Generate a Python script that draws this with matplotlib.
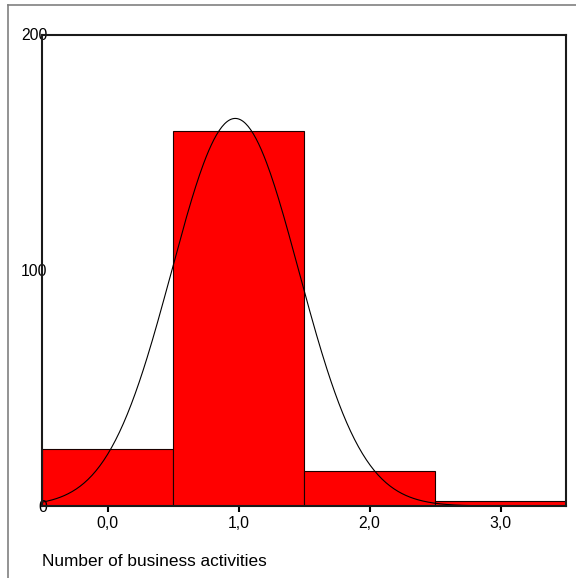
import numpy as np
import matplotlib.pyplot as plt
from matplotlib.lines import Line2D

plt.rcParams['font.family'] = ['Liberation Sans', 'DejaVu Sans']

# histogram of number of business activities
categories = [0, 1, 2, 3]
counts = [24, 159, 15, 2]
tick_labels = ['0,0', '1,0', '2,0', '3,0']

fig = plt.figure(figsize=(5.76, 5.78), dpi=100)
ax = fig.add_axes([42/576, 1-506/578, (566-42)/576, (506-34.5)/578])

ax.bar(categories, counts, width=1.0, color='#ff0000', edgecolor='#1a0000', linewidth=0.8)

# normal curve from the data
vals = np.repeat(categories, counts)
mu = vals.mean()
sd = vals.std(ddof=1)
n = len(vals)
xs = np.linspace(-0.5, 3.5, 400)
ys = n * 1.0 / (sd * np.sqrt(2*np.pi)) * np.exp(-0.5*((xs-mu)/sd)**2)
ax.plot(xs, ys, color='black', linewidth=0.8)

ax.set_xlim(-0.5, 3.5)
ax.set_ylim(0, 200)
ax.set_xticks(categories)
ax.set_xticklabels(tick_labels)
ax.set_yticks([0, 100, 200])
ax.tick_params(axis='x', direction='out', length=4, width=1.5, labelsize=11.3, pad=3.5)
ax.tick_params(axis='y', length=0, labelsize=11.3, pad=-4)
for s in ax.spines.values():
    s.set_linewidth(1.5)
    s.set_color('#1a1a1a')

fig.text(42/576, 1-562/578, 'Number of business activities', fontsize=12.4, va='center', ha='left')

# outer frame (top and left only)
fig.add_artist(Line2D([8/576, 1], [1-5/578, 1-5/578], color='#808080', linewidth=1.2))
fig.add_artist(Line2D([8/576, 8/576], [0, 1-5/578], color='#808080', linewidth=1.2))

fig.savefig('out.png', dpi=100)
